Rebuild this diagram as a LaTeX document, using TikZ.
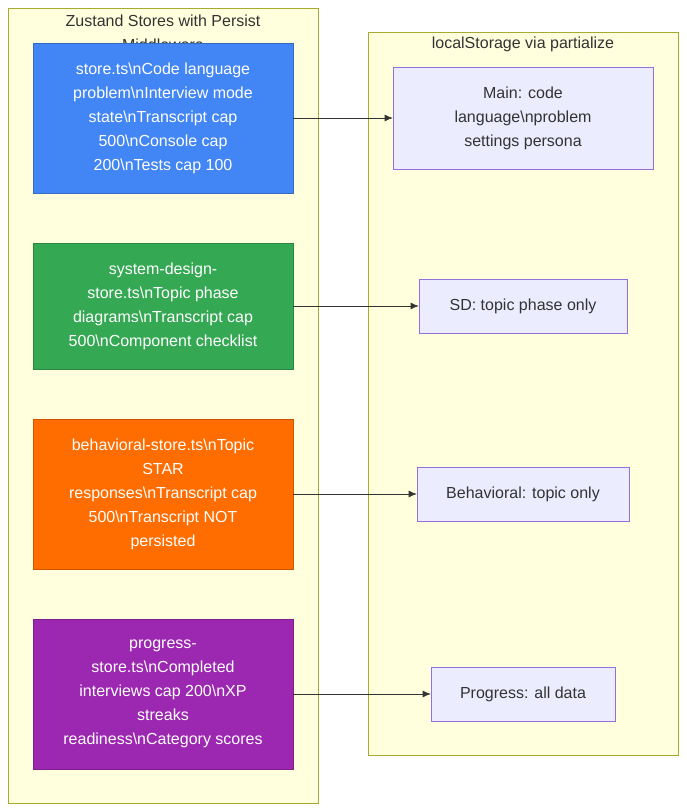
\documentclass[tikz,border=0pt]{standalone}
\usepackage{fontspec}
\setmainfont{Liberation Sans}
\usetikzlibrary{arrows.meta}
\definecolor{clfill}{HTML}{FFFFDE}
\definecolor{clline}{HTML}{AAAA33}
\definecolor{nbfill}{HTML}{ECECFF}
\definecolor{nbline}{HTML}{9370DB}
\definecolor{txt}{HTML}{333333}
\definecolor{cblue}{HTML}{4285F4}
\definecolor{cgreen}{HTML}{34A853}
\definecolor{corange}{HTML}{FF6D00}
\definecolor{cpurple}{HTML}{9C27B0}
\tikzset{
  store/.style={draw=#1!80!black, fill=#1, text=white, align=center, font=\fontsize{12}{18}\selectfont,
    minimum width=195pt, inner sep=0pt},
  saved/.style={draw=nbline, fill=nbfill, text=txt, align=center, font=\fontsize{12}{18}\selectfont, inner sep=0pt},
  link/.style={draw=txt, -{Latex[length=6pt,width=5pt]}}
}
\begin{document}
\begin{tikzpicture}[x=0.75pt,y=-0.75pt]
\useasboundingbox (0,0) rectangle (686,812);
% clusters
\draw[clline, fill=clfill] (8,8) rectangle (318,803);
\draw[clline, fill=clfill] (368,32) rectangle (678,755);
\node[text=txt, font=\fontsize{12}{18}\selectfont, align=center, anchor=north] (ttlL) at (163,10) {Zustand Stores with Persist\\Middleware};
\node[text=txt, font=\fontsize{12}{18}\selectfont] (ttlR) at (523,44) {localStorage via partialize};

% stores
\node[store=cblue, minimum height=112.5pt] (main) at (163,118) {store.ts\textbackslash nCode language\\problem\textbackslash nInterview mode\\state\textbackslash nTranscript cap\\500\textbackslash nConsole cap\\200\textbackslash nTests cap 100};
\node[store=cgreen, minimum height=94.5pt] (sd) at (163,306) {system-design-\\store.ts\textbackslash nTopic phase\\diagrams\textbackslash nTranscript cap\\500\textbackslash nComponent checklist};
\node[store=corange, minimum height=112.5pt] (beh) at (163,494) {behavioral-store.ts\textbackslash nTopic\\STAR\\responses\textbackslash nTranscript cap\\500\textbackslash nTranscript NOT\\persisted};
\node[store=cpurple, minimum height=112.5pt] (prog) at (163,694) {progress-\\store.ts\textbackslash nCompleted\\interviews cap 200\textbackslash nXP\\streaks\\readiness\textbackslash nCategory scores};

% persisted parts
\node[saved, minimum width=195pt, minimum height=76.5pt] (mainS) at (523,118) {Main: code\\language\textbackslash nproblem\\settings persona};
\node[saved, minimum width=156pt, minimum height=40.5pt] (sdS) at (523,306) {SD: topic phase only};
\node[saved, minimum width=159pt, minimum height=40.5pt] (behS) at (523,494) {Behavioral: topic only};
\node[saved, minimum width=138pt, minimum height=40.5pt] (progS) at (523,694) {Progress: all data};

\draw[link] (main) -- (mainS);
\draw[link] (sd) -- (sdS);
\draw[link] (beh) -- (behS);
\draw[link] (prog) -- (progS);
\end{tikzpicture}
\end{document}
